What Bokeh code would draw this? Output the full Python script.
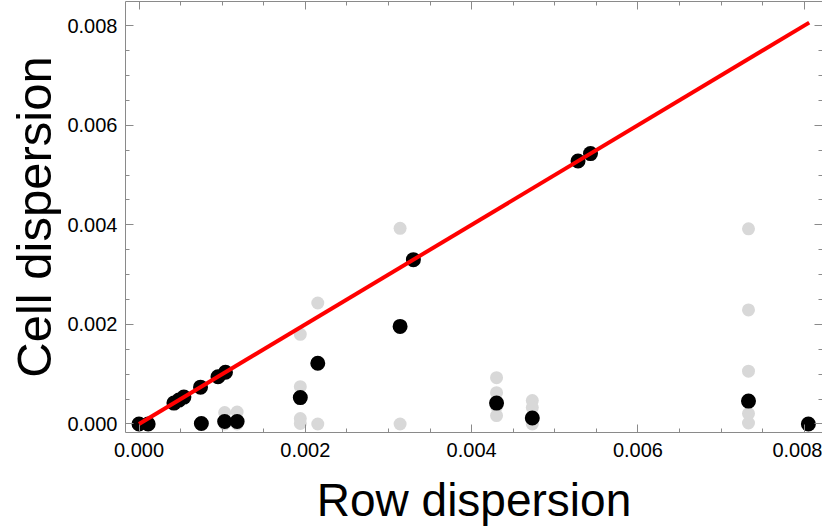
from bokeh.plotting import figure
from bokeh.models import (Range1d, LinearAxis, SingleIntervalTicker, PrintfTickFormatter,
                          CustomLabelingPolicy)
from bokeh.embed import file_html
from bokeh.resources import INLINE

# Aggregate (row) points: black
row_x = [0.0, 0.00011, 0.00042, 0.00048, 0.00054, 0.00074, 0.00095, 0.00104,
         0.00075, 0.00103, 0.00118, 0.00194, 0.00215, 0.00314, 0.00330,
         0.00430, 0.00473, 0.00528, 0.00543, 0.00733, 0.00805]
row_y = [0.0, 0.0, 0.00042, 0.00048, 0.00054, 0.00074, 0.00095, 0.00104,
         0.00001, 0.00005, 0.00005, 0.00053, 0.00122, 0.00196, 0.00330,
         0.00042, 0.00012, 0.00528, 0.00543, 0.00046, 0.0]

# Individual cell points: light gray
cell_x = [0.00103, 0.00103, 0.00118, 0.00118,
          0.00194, 0.00194, 0.00194, 0.00194,
          0.00215, 0.00215, 0.00314, 0.00314,
          0.00430, 0.00430, 0.00430, 0.00430,
          0.00473, 0.00473, 0.00473,
          0.00733, 0.00733, 0.00733, 0.00733, 0.00733]
cell_y = [0.00023, 0.0, 0.00024, 0.0,
          0.00180, 0.00075, 0.00011, 0.00001,
          0.00243, 0.0, 0.00393, 0.0,
          0.00093, 0.00063, 0.00035, 0.00017,
          0.00047, 0.00033, 0.0,
          0.00392, 0.00229, 0.00106, 0.00021, 0.00002]

# Diagonal reference line
line_x = [0.0, 0.00806]
line_y = [0.0, 0.00806]

x_label = "Row dispersion"
y_label = "Cell dispersion"

p = figure(frame_width=697, frame_height=431, output_backend="svg", toolbar_location=None,
           x_range=Range1d(-0.0001624, 0.00822),
           y_range=Range1d(-0.0001707, 0.008484),
           min_border_left=125, min_border_right=0, min_border_top=1, min_border_bottom=96)
p.xgrid.visible = False
p.ygrid.visible = False
p.outline_line_color = None
p.background_fill_color = "white"
p.border_fill_color = "white"

p.add_layout(LinearAxis(), "right")
p.add_layout(LinearAxis(), "above")

FRAME = "#8a8a8a"

no_labels = CustomLabelingPolicy(code="""
for (const i of Array.from(indices.ones())) { indices.unset(i) }
return indices
""")

def style_axis(ax, labels):
    ax.ticker = SingleIntervalTicker(interval=0.002, num_minor_ticks=4)
    ax.axis_line_color = FRAME
    ax.axis_line_width = 1
    ax.major_tick_line_color = FRAME
    ax.minor_tick_line_color = FRAME
    ax.major_tick_in = 8
    ax.major_tick_out = 0
    ax.minor_tick_in = 4
    ax.minor_tick_out = 0
    if labels:
        ax.formatter = PrintfTickFormatter(format="%.3f")
        ax.major_label_text_font = "Liberation Sans"
        ax.major_label_text_font_size = "20px"
        ax.major_label_text_color = "black"
        ax.major_label_standoff = 6
    else:
        ax.major_label_policy = no_labels
        ax.major_label_text_font_size = "0px"
        ax.major_label_standoff = 0

for ax in p.below:
    style_axis(ax, True)
    ax.major_label_standoff = 10
    ax.axis_label = x_label
    ax.axis_label_text_font = "Liberation Sans"
    ax.axis_label_text_font_style = "normal"
    ax.axis_label_text_font_size = "46px"
    ax.axis_label_text_color = "black"
    ax.axis_label_standoff = 14
for ax in p.left:
    style_axis(ax, True)
    ax.major_label_standoff = 8
    ax.axis_label = y_label
    ax.axis_label_text_font = "Liberation Sans"
    ax.axis_label_text_font_style = "normal"
    ax.axis_label_text_font_size = "49px"
    ax.axis_label_text_color = "black"
    ax.axis_label_standoff = 3
for ax in p.right + p.above:
    style_axis(ax, False)

p.scatter(cell_x, cell_y, size=13, color="#d8d8d8", line_color=None)
p.scatter(row_x, row_y, size=15, color="black", line_color=None)
p.line(line_x, line_y, line_color="#ff0000", line_width=4)

open("out.html", "w").write(file_html(p, INLINE))
